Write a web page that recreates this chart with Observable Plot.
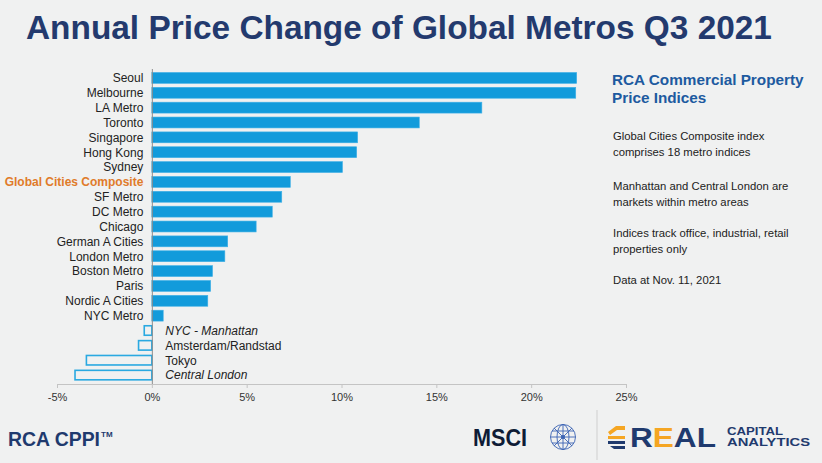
<!DOCTYPE html>
<html>
<head>
<meta charset="utf-8">
<script src="https://cdn.jsdelivr.net/npm/d3@7"></script>
<script src="https://cdn.jsdelivr.net/npm/@observablehq/plot@0.6"></script>
<style>
  html, body { margin: 0; padding: 0; }
  body { width: 822px; height: 463px; background: #f0f1f1; position: relative; overflow: hidden;
         font-family: "Liberation Sans", Arial, sans-serif; }
  #chart { position: absolute; left: 0; top: 60px; }
  #overlay { position: absolute; left: 0; top: 0; }
</style>
</head>
<body>
<div id="chart"></div>
<svg id="overlay" width="822" height="463" xmlns="http://www.w3.org/2000/svg" font-family="Liberation Sans, Arial, sans-serif">
  <text x="26" y="39" font-size="33.4" font-weight="bold" fill="#233a6e">Annual Price Change of Global Metros Q3 2021</text>

  <text x="612" y="85" font-size="15.3" font-weight="bold" fill="#1d5aa0">RCA Commercial Property</text>
  <text x="612" y="103" font-size="15.3" font-weight="bold" fill="#1d5aa0">Price Indices</text>

  <g font-size="11.3" fill="#222">
    <text x="613" y="140">Global Cities Composite index</text>
    <text x="613" y="156">comprises 18 metro indices</text>
    <text x="613" y="190">Manhattan and Central London are</text>
    <text x="613" y="206">markets within metro areas</text>
    <text x="613" y="237">Indices track office, industrial, retail</text>
    <text x="613" y="253">properties only</text>
    <text x="613" y="284">Data at Nov. 11, 2021</text>
  </g>

  <text x="8" y="446" font-size="19.5" font-weight="bold" fill="#1f3a6e" textLength="92" lengthAdjust="spacingAndGlyphs">RCA CPPI</text>
  <text x="101" y="437" font-size="8" font-weight="bold" fill="#1f3a6e">TM</text>

  <text x="473" y="446" font-size="23" font-weight="bold" fill="#0e1c36" textLength="54" lengthAdjust="spacingAndGlyphs">MSCI</text>
  <g transform="translate(563,437)" fill="none" stroke="#3b63b3" stroke-width="0.9">
    <circle r="12.5"/>
    <ellipse rx="6" ry="12.5"/>
    <line x1="0" y1="-12.5" x2="0" y2="12.5"/>
    <line x1="-12.5" y1="0" x2="12.5" y2="0"/>
    <line x1="-11" y1="-6" x2="11" y2="-6"/>
    <line x1="-11" y1="6" x2="11" y2="6"/>
    <line x1="-9" y1="-9" x2="9" y2="9"/>
    <line x1="9" y1="-9" x2="-9" y2="9"/>
    <circle r="1.6" fill="#3b63b3"/>
  </g>

  <line x1="597" y1="410" x2="597" y2="460" stroke="#cfcfcf" stroke-width="1"/>

  <g transform="translate(608,426)">
    <polygon points="0,6 8,0 17,0 17,4 9,4 2,9" fill="#f5a623"/>
    <polygon points="0,10 17,10 17,13 0,13" fill="#f5a623"/>
    <polygon points="0,15 17,15 17,18 0,18" fill="#1f3a6e"/>
    <polygon points="2,20 17,20 17,23 6,23" fill="#1f3a6e"/>
  </g>
  <text x="630" y="447" font-size="27" font-weight="bold" textLength="86" lengthAdjust="spacingAndGlyphs"><tspan fill="#1f3a6e">R</tspan><tspan fill="#f5a623">E</tspan><tspan fill="#1f3a6e">AL</tspan></text>
  <text x="727" y="435" font-size="10" font-weight="bold" fill="#1f3a6e" textLength="56" lengthAdjust="spacingAndGlyphs">CAPITAL</text>
  <text x="727" y="446" font-size="10" font-weight="bold" fill="#1f3a6e" textLength="83" lengthAdjust="spacingAndGlyphs">ANALYTICS</text>
</svg>
<script>
const names = ["Seoul", "Melbourne", "LA Metro", "Toronto", "Singapore", "Hong Kong", "Sydney",
  "Global Cities Composite", "SF Metro", "DC Metro", "Chicago", "German A Cities", "London Metro",
  "Boston Metro", "Paris", "Nordic A Cities", "NYC Metro", "NYC - Manhattan", "Amsterdam/Randstad",
  "Tokyo", "Central London"];
const values = [22.4, 22.35, 17.4, 14.1, 10.85, 10.8, 10.05, 7.3, 6.85, 6.35, 5.5, 4.0, 3.85,
  3.2, 3.1, 2.95, 0.6, -0.4, -0.7, -3.45, -4.05];
const italicNames = ["NYC - Manhattan", "Central London"];
const highlightName = "Global Cities Composite";
const xTicks = [-5, 0, 5, 10, 15, 20, 25];

const data = names.map((name, i) => ({name, value: values[i]}));
const pos = data.filter(d => d.value >= 0);
const neg = data.filter(d => d.value < 0);

const chart = Plot.plot({
  width: 640,
  height: 350,
  marginLeft: 57,
  marginRight: 14,
  marginTop: 9,
  marginBottom: 26,
  style: {background: "transparent", fontFamily: "Liberation Sans, Arial, sans-serif", fontSize: "12px", overflow: "visible"},
  x: {domain: [-5, 25]},
  y: {domain: names, padding: 0.2, round: false, axis: null},
  marks: [
    Plot.frame({anchor: "bottom", stroke: "#c4c4c4"}),
    Plot.axisX({ticks: xTicks, tickFormat: d => d + "%", tickSize: 4, tickPadding: 5,
      stroke: "#c4c4c4", fill: "#333", fontSize: 11, label: null}),
    Plot.barX(pos, {x: "value", y: "name", fill: "#129bdb", stroke: "#3fb0e6", strokeWidth: 0.6, insetTop: 0.5, insetBottom: 0.5}),
    Plot.barX(neg, {x: "value", y: "name", fill: "none", stroke: "#2aa9e1", strokeWidth: 1.6, insetTop: 1.2, insetBottom: 1.2}),
    Plot.ruleX([0], {stroke: "#8c8c8c", strokeWidth: 1}),
    Plot.text(pos.filter(d => d.name !== highlightName), {x: 0, y: "name", text: "name", dx: -9, textAnchor: "end", fill: "#222"}),
    Plot.text(pos.filter(d => d.name === highlightName), {x: 0, y: "name", text: "name", dx: -9, textAnchor: "end", fill: "#e07b2a", fontWeight: "bold"}),
    Plot.text(neg.filter(d => !italicNames.includes(d.name)), {x: 0, y: "name", text: "name", dx: 13, textAnchor: "start", fill: "#222"}),
    Plot.text(neg.filter(d => italicNames.includes(d.name)), {x: 0, y: "name", text: "name", dx: 13, textAnchor: "start", fill: "#222", fontStyle: "italic"})
  ]
});
document.getElementById("chart").appendChild(chart);
</script>
</body>
</html>
